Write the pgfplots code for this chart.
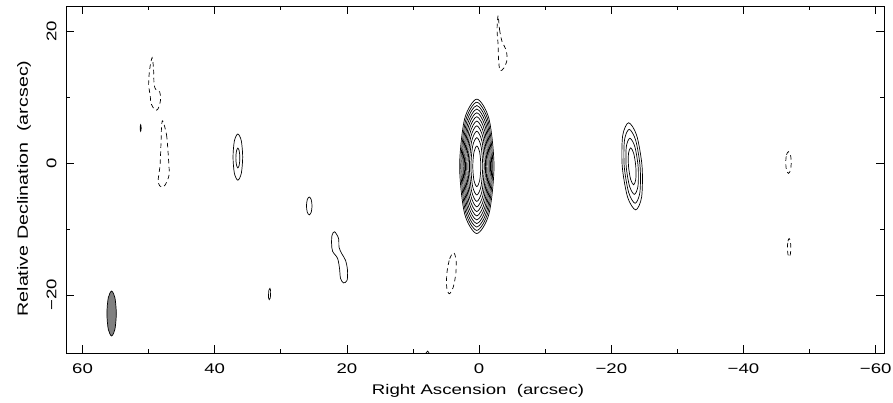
\documentclass[border=0pt]{standalone}
\usepackage{fontspec}
\setmainfont{Liberation Sans}[FakeStretch=1.33]
\usepackage{pgfplots}
\pgfplotsset{compat=1.18}
\begin{document}
\begin{tikzpicture}[font=\fontsize{14}{16}\selectfont]
\begin{axis}[
  scale only axis, width=818pt, height=347.3pt,
  x dir=reverse,
  xmin=-61.25, xmax=62.5, ymin=-28.83, ymax=23.79,
  xtick={-60,-40,-20,0,20,40,60},
  xticklabels={−60,−40,−20,0,20,40,60},
  minor xtick={-50,-30,-10,10,30,50},
  ytick={-20,0,20}, yticklabels={−20,0,20}, minor ytick={-10,10},
  tick align=inside, major tick length=8pt, minor tick length=4pt,
  every tick/.style={black, line width=0.8pt},
  axis line style={line width=0.9pt},
  tick label style={font=\fontsize{14}{16}\selectfont},
  label style={font=\fontsize{14}{16}\selectfont},
  xticklabel style={inner sep=0pt, yshift=-10pt},
  yticklabel style={xshift=-9.3pt, rotate=90, anchor=south, inner sep=0pt},
  xlabel={Right Ascension\ \ (arcsec)},
  ylabel={Relative Declination\ \ (arcsec)},
  xlabel style={at={(axis description cs:0.5037,-0.118)}, anchor=base},
  ylabel style={at={(axis description cs:-0.0465,0.4745)}, anchor=base, font=\fontsize{14.8}{16}\selectfont},
  every axis plot/.append style={line width=0.7pt, black},
]
\coordinate (SW) at (rel axis cs:0,0);
% beam
\addplot[fill=gray, draw=black, smooth cycle] coordinates {(56.31,-22.8)(56.10,-20.40)(55.6,-19.4)(55.10,-20.40)(54.89,-22.8)(55.10,-25.20)(55.6,-26.2)(56.10,-25.20)};
% central source
\addplot[smooth cycle] coordinates {(0.96,-0.5)(0.78,1.67)(0.35,2.57)(-0.08,1.67)(-0.26,-0.5)(-0.08,-2.67)(0.35,-3.57)(0.78,-2.67)};
\addplot[smooth cycle] coordinates {(1.24,-0.5)(0.98,2.57)(0.35,3.84)(-0.28,2.57)(-0.54,-0.5)(-0.28,-3.57)(0.35,-4.84)(0.98,-3.57)};
\addplot[smooth cycle] coordinates {(1.47,-0.5)(1.14,3.26)(0.35,4.82)(-0.44,3.26)(-0.77,-0.5)(-0.44,-4.26)(0.35,-5.82)(1.14,-4.26)};
\addplot[smooth cycle] coordinates {(1.68,-0.5)(1.29,3.84)(0.35,5.64)(-0.59,3.84)(-0.98,-0.5)(-0.59,-4.84)(0.35,-6.64)(1.29,-4.84)};
\addplot[smooth cycle] coordinates {(1.87,-0.5)(1.43,4.35)(0.35,6.36)(-0.73,4.35)(-1.17,-0.5)(-0.73,-5.35)(0.35,-7.36)(1.43,-5.35)};
\addplot[smooth cycle] coordinates {(2.06,-0.5)(1.56,4.82)(0.35,7.02)(-0.86,4.82)(-1.36,-0.5)(-0.86,-5.82)(0.35,-8.02)(1.56,-5.82)};
\addplot[smooth cycle] coordinates {(2.24,-0.5)(1.69,5.24)(0.35,7.62)(-0.99,5.24)(-1.54,-0.5)(-0.99,-6.24)(0.35,-8.62)(1.69,-6.24)};
\addplot[smooth cycle] coordinates {(2.42,-0.5)(1.81,5.64)(0.35,8.18)(-1.11,5.64)(-1.72,-0.5)(-1.11,-6.64)(0.35,-9.18)(1.81,-6.64)};
\addplot[smooth cycle] coordinates {(2.60,-0.5)(1.94,6.01)(0.35,8.71)(-1.24,6.01)(-1.90,-0.5)(-1.24,-7.01)(0.35,-9.71)(1.94,-7.01)};
\addplot[smooth cycle] coordinates {(2.77,-0.5)(2.06,6.37)(0.35,9.21)(-1.36,6.37)(-2.07,-0.5)(-1.36,-7.37)(0.35,-10.21)(2.06,-7.37)};
\addplot[smooth cycle] coordinates {(2.95,-0.5)(2.19,6.70)(0.35,9.68)(-1.49,6.70)(-2.25,-0.5)(-1.49,-7.70)(0.35,-10.68)(2.19,-7.70)};
% source at -23
\addplot[smooth cycle] coordinates {(-22.60,-0.5)(-22.60,1.48)(-22.93,2.30)(-23.38,1.48)(-23.70,-0.5)(-23.70,-2.48)(-23.37,-3.30)(-22.92,-2.48)};
\addplot[smooth cycle] coordinates {(-22.25,-0.5)(-22.27,2.50)(-22.81,3.75)(-23.55,2.50)(-24.05,-0.5)(-24.03,-3.50)(-23.49,-4.75)(-22.75,-3.50)};
\addplot[smooth cycle] coordinates {(-21.95,-0.5)(-21.99,3.46)(-22.70,5.10)(-23.68,3.46)(-24.35,-0.5)(-24.32,-4.46)(-23.60,-6.10)(-22.62,-4.46)};
\addplot[smooth cycle] coordinates {(-21.65,-0.5)(-21.72,4.17)(-22.62,6.10)(-23.84,4.17)(-24.65,-0.5)(-24.58,-5.17)(-23.68,-7.10)(-22.46,-5.17)};
% source at 36.5
\addplot[smooth cycle] coordinates {(37.23,0.9)(37.02,3.38)(36.5,4.4)(35.98,3.38)(35.77,0.9)(35.98,-1.58)(36.5,-2.6)(37.02,-1.58)};
\addplot[smooth cycle] coordinates {(36.8,0.76)(36.71,1.82)(36.5,2.26)(36.29,1.82)(36.2,0.76)(36.29,-0.30)(36.5,-0.74)(36.71,-0.30)};
% small solid contours
\addplot[smooth cycle] coordinates {(26.12,-6.5)(26.0,-5.55)(25.7,-5.15)(25.4,-5.55)(25.28,-6.5)(25.4,-7.45)(25.7,-7.85)(26.0,-7.45)};
\addplot[smooth cycle] coordinates {(21.87,-10.41)(21.27,-11.40)(21.19,-12.77)(20.81,-13.68)(20.21,-14.74)(19.91,-16.26)(19.98,-17.78)(20.51,-18.16)(20.97,-17.48)(21.12,-15.96)(21.42,-14.44)(22.17,-13.37)(22.32,-12.16)(22.25,-10.94)};
\addplot[smooth cycle] coordinates {(31.85,-19.85)(31.8,-19.25)(31.65,-19.0)(31.55,-19.25)(31.55,-19.85)(31.6,-20.45)(31.75,-20.7)(31.85,-20.45)};
\addplot[smooth cycle] coordinates {(51.28,5.3)(51.25,5.65)(51.2,5.8)(51.15,5.65)(51.12,5.3)(51.15,4.95)(51.2,4.8)(51.25,4.95)};
\addplot[smooth cycle] coordinates {(8.1,-29.0)(8.01,-28.75)(7.8,-28.5)(7.59,-28.75)(7.5,-29.0)(7.59,-29.25)(7.8,-29.5)(8.01,-29.25)};
% dashed (negative) contours
\addplot[smooth cycle, dash pattern=on 4.5pt off 3.5pt] coordinates {(49.47,15.96)(49.25,14.13)(49.17,11.85)(48.87,11.09)(48.34,10.79)(48.19,9.57)(48.57,8.21)(49.02,8.05)(49.62,8.97)(49.77,10.33)(50.0,11.85)(49.85,14.13)};
\addplot[smooth cycle, dash pattern=on 4.5pt off 3.5pt] coordinates {(47.86,6.38)(47.29,4.26)(46.98,0.46)(46.91,-1.82)(47.51,-3.34)(48.04,-3.65)(48.57,-2.89)(48.27,-0.30)(48.11,3.50)(48.04,5.62)};
\addplot[smooth cycle, dash pattern=on 4.5pt off 3.5pt] coordinates {(4.88,-16.7)(4.46,-14.51)(3.89,-13.6)(3.50,-14.51)(3.52,-16.7)(3.94,-18.89)(4.51,-19.8)(4.90,-18.89)};
\addplot[smooth cycle, dash pattern=on 4.5pt off 3.5pt] coordinates {(-2.87,22.34)(-3.09,20.21)(-3.47,18.39)(-4.07,17.17)(-4.22,15.65)(-3.77,14.44)(-3.17,13.98)(-2.94,15.65)(-2.87,17.93)(-2.71,20.21)};
\addplot[smooth cycle, dash pattern=on 4.5pt off 3.5pt] coordinates {(-46.38,0.08)(-46.5,1.24)(-46.8,1.72)(-47.1,1.24)(-47.22,0.08)(-47.1,-1.08)(-46.8,-1.56)(-46.5,-1.08)};
\addplot[smooth cycle, dash pattern=on 4.5pt off 3.5pt] coordinates {(-46.64,-12.84)(-46.72,-11.85)(-46.9,-11.44)(-47.08,-11.85)(-47.16,-12.84)(-47.08,-13.83)(-46.9,-14.24)(-46.72,-13.83)};
\end{axis}
\pgfresetboundingbox
\path[use as bounding box] (SW) ++(-66pt,-48.7pt) rectangle ++(893pt,402pt);
\end{tikzpicture}
\end{document}
